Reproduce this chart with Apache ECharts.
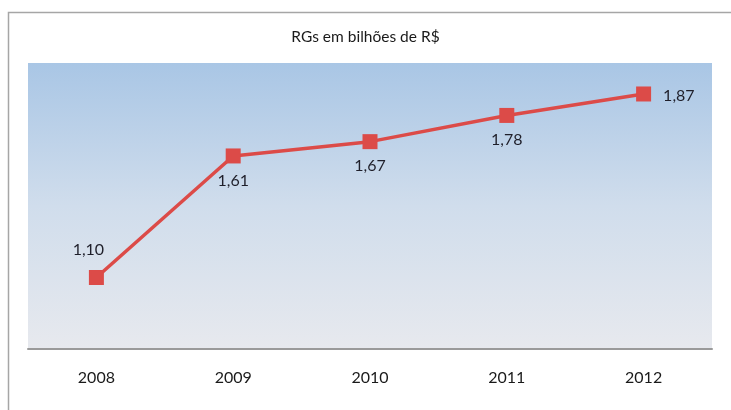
<!DOCTYPE html>
<html>
<head>
<meta charset="utf-8">
<script src="https://cdn.jsdelivr.net/npm/echarts@6/dist/echarts.min.js"></script>
<style>
  html, body { margin: 0; padding: 0; background: #fff; }
  #chart { width: 731px; height: 410px; }
</style>
</head>
<body>
<div id="chart"></div>
<script>
// dados
var anos = ['2008', '2009', '2010', '2011', '2012'];
var valores = [1.10, 1.61, 1.67, 1.78, 1.87];
var posRotulo = ['top', 'bottom', 'bottom', 'bottom', 'right'];

var chart = echarts.init(document.getElementById('chart'));

var pontos = valores.map(function (v, i) {
  var item = { value: v, label: { position: posRotulo[i] } };
  if (i === 0) item.label.offset = [-8, -4];
  if (i > 0 && i < 4) item.label.offset = [0, 1];
  if (i === 4) item.label.offset = [4, 2];
  return item;
});

var option = {
  backgroundColor: '#fff',
  animation: false,
  textStyle: { fontFamily: 'Lato, "Open Sans", sans-serif' },
  title: {
    text: 'RGs em bilhões de R$',
    left: 'center', top: 24,
    textStyle: { fontSize: 15.5, fontWeight: 'normal', color: '#1a1a1a' }
  },
  graphic: [{  // moldura externa
    type: 'rect', left: 6, top: 10, z: -1,
    shape: { width: 740, height: 420 },
    style: { fill: 'none', stroke: '#a6a6a6', lineWidth: 1.5 }
  }],
  grid: {
    left: 28, right: 19, top: 63, bottom: 61,
    show: true, borderWidth: 0,
    backgroundColor: new echarts.graphic.LinearGradient(0, 0, 0, 1, [
      { offset: 0, color: '#a9c6e5' },
      { offset: 0.5, color: '#d0ddec' },
      { offset: 1, color: '#e7e9ee' }
    ])
  },
  xAxis: {
    type: 'category',
    data: anos,
    boundaryGap: true,
    axisLine: { lineStyle: { color: '#9a9a9a', width: 2 } },
    axisTick: { show: false },
    axisLabel: { margin: 21, fontSize: 16, color: '#1a1a1a' }
  },
  yAxis: {
    type: 'value',
    min: 0.8, max: 2.0,
    show: false,
    splitLine: { show: false }
  },
  series: [{
    type: 'line',
    data: pontos,
    symbol: 'rect',
    symbolSize: 15,
    itemStyle: { color: '#dc4b48' },
    lineStyle: { color: '#dc4b48', width: 3.5 },
    label: {
      show: true,
      fontSize: 16,
      color: '#1f1f2a',
      distance: 8,
      formatter: function (p) { return p.value.toFixed(2).replace('.', ','); }
    }
  }]
};

chart.setOption(option);
</script>
</body>
</html>
